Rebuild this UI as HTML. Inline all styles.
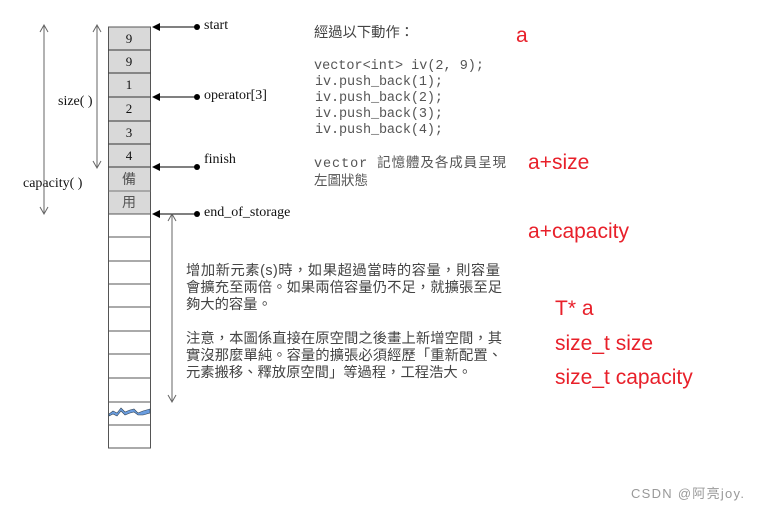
<!DOCTYPE html>
<html><head><meta charset="utf-8"><style>
html,body{margin:0;padding:0;background:#fff;}
svg{display:block;}
.s{font-family:"Liberation Serif",serif;fill:#111;}
.c{font-family:"Liberation Mono","Noto Sans CJK TC",monospace;fill:#555;font-size:13.5px;}
.k{font-family:"Liberation Sans","Noto Sans CJK TC",sans-serif;fill:#444;font-size:14.3px;}
.r{font-family:"Liberation Sans",sans-serif;fill:#e8202a;font-size:21px;}
</style></head><body>
<svg width="761" height="511" viewBox="0 0 761 511" xmlns="http://www.w3.org/2000/svg">
<defs>
<marker id="ah" markerWidth="8" markerHeight="8" refX="7" refY="4" orient="auto" markerUnits="userSpaceOnUse"><path d="M0,0 L8,4 L0,8 z" fill="#000"/></marker>
</defs>
<rect x="108.5" y="27" width="42" height="187" fill="#d9d9d9" stroke="#555"/>
<g stroke="#333" stroke-width="1">
<line x1="108.5" y1="50" x2="150.5" y2="50"/><line x1="108.5" y1="73" x2="150.5" y2="73"/>
<line x1="108.5" y1="97" x2="150.5" y2="97"/><line x1="108.5" y1="121" x2="150.5" y2="121"/>
<line x1="108.5" y1="144" x2="150.5" y2="144"/><line x1="108.5" y1="167" x2="150.5" y2="167"/>
<line x1="108.5" y1="191" x2="150.5" y2="191" stroke="#777"/>
</g>
<rect x="108.5" y="214" width="42" height="234" fill="#fff" stroke="#555"/>
<g stroke="#555">
<line x1="108.5" y1="237" x2="150.5" y2="237"/><line x1="108.5" y1="261" x2="150.5" y2="261"/>
<line x1="108.5" y1="284" x2="150.5" y2="284"/><line x1="108.5" y1="307" x2="150.5" y2="307"/>
<line x1="108.5" y1="331" x2="150.5" y2="331"/><line x1="108.5" y1="354" x2="150.5" y2="354"/>
<line x1="108.5" y1="378" x2="150.5" y2="378"/><line x1="108.5" y1="402" x2="150.5" y2="402"/>
<line x1="108.5" y1="425" x2="150.5" y2="425"/>
</g>
<path d="M109,414 L113,411 L117,413 L121,408 L125,412 L130,410 L134,409 L138,413 L143,411 L150,409 L150,413 L143,415 L138,415 L134,412 L130,413 L125,415 L121,411 L117,416 L113,414 L109,416z" fill="#6a9de0" stroke="#345" stroke-width="0.6"/>
<g class="s" font-size="13" text-anchor="middle">
<text x="129" y="43">9</text><text x="129" y="66">9</text><text x="129" y="89">1</text>
<text x="129" y="113">2</text><text x="129" y="137">3</text><text x="129" y="160">4</text>
</g>
<g font-family="'Noto Sans CJK TC',sans-serif" font-size="14" fill="#555" text-anchor="middle">
<text x="129" y="184">備</text><text x="129" y="207">用</text>
</g>
<g stroke="#000" stroke-width="1" marker-end="url(#ah)">
<line x1="196" y1="27" x2="153" y2="27"/><line x1="196" y1="97" x2="153" y2="97"/>
<line x1="196" y1="167" x2="153" y2="167"/><line x1="196" y1="214" x2="153" y2="214"/>
</g>
<g fill="#000"><circle cx="197" cy="27" r="3"/><circle cx="197" cy="97" r="3"/><circle cx="197" cy="167" r="3"/><circle cx="197" cy="214" r="3"/></g>
<g class="s" font-size="14">
<text x="204" y="29">start</text><text x="204" y="99">operator[3]</text>
<text x="204" y="163">finish</text><text x="204" y="216">end_of_storage</text>
<text x="58" y="105">size( )</text><text x="23" y="187">capacity( )</text>
</g>
<g stroke="#666" fill="none" stroke-width="1">
<line x1="44" y1="26" x2="44" y2="213"/><path d="M40,32 L44,25 L48,32 M40,207 L44,214 L48,207"/>
<line x1="97" y1="26" x2="97" y2="167"/><path d="M93,32 L97,25 L101,32 M93,161 L97,168 L101,161"/>
<line x1="172" y1="215" x2="172" y2="401"/><path d="M168,221 L172,214 L176,221 M168,395 L172,402 L176,395"/>
</g>
<text class="k" x="314" y="37">經過以下動作：</text>
<g class="c">
<text x="314" y="69" textLength="170">vector&lt;int&gt; iv(2, 9);</text>
<text x="315" y="85" textLength="128">iv.push_back(1);</text>
<text x="315" y="101" textLength="128">iv.push_back(2);</text>
<text x="315" y="117" textLength="128">iv.push_back(3);</text>
<text x="315" y="133" textLength="128">iv.push_back(4);</text>
<text x="314" y="167" textLength="192">vector 記憶體及各成員呈現</text>
<text x="314" y="185">左圖狀態</text>
</g>
<g class="k">
<text x="186" y="275" textLength="314">增加新元素(s)時，如果超過當時的容量，則容量</text>
<text x="186" y="292" textLength="316">會擴充至兩倍。如果兩倍容量仍不足，就擴張至足</text>
<text x="186" y="309">夠大的容量。</text>
<text x="186" y="343" textLength="316">注意，本圖係直接在原空間之後畫上新增空間，其</text>
<text x="186" y="360" textLength="316">實沒那麼單純。容量的擴張必須經歷「重新配置、</text>
<text x="186" y="377">元素搬移、釋放原空間」等過程，工程浩大。</text>
</g>
<g class="r">
<text x="516" y="42">a</text>
<text x="528" y="169">a+size</text>
<text x="528" y="238">a+capacity</text>
<text x="555" y="315">T* a</text>
<text x="555" y="350">size_t size</text>
<text x="555" y="384">size_t capacity</text>
</g>
<text x="631" y="498" textLength="113" font-family="'Liberation Sans','Noto Sans CJK SC',sans-serif" font-size="13" fill="#999">CSDN @阿亮joy.</text>
</svg>
</body></html>
